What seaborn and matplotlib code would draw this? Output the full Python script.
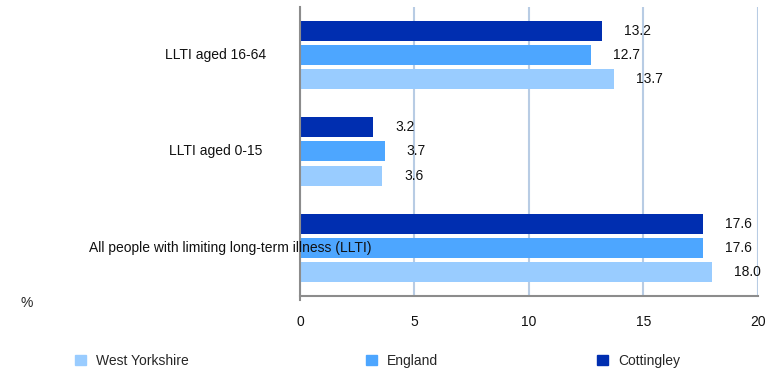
import numpy as np
import pandas as pd
import seaborn as sns
import matplotlib.pyplot as plt
from matplotlib.patches import Patch

categories = ["LLTI aged 16-64", "LLTI aged 0-15",
              "All people with limiting long-term illness (LLTI)"]
cottingley = [13.2, 3.2, 17.6]
england = [12.7, 3.7, 17.6]
west_yorkshire = [13.7, 3.6, 18.0]

series = ["Cottingley", "England", "West Yorkshire"]
colors = {"Cottingley": "#002EB0", "England": "#4DA6FF", "West Yorkshire": "#99CCFF"}

df = pd.DataFrame({
    "category": categories * 3,
    "value": cottingley + england + west_yorkshire,
    "area": [s for s in series for _ in categories],
})

sns.set_style("white")
plt.rcParams["font.family"] = ["Liberation Sans", "DejaVu Sans"]

fig = plt.figure(figsize=(7.69, 3.69), dpi=100)
ax = fig.add_axes([0.390, 0.198, 0.5957, 0.783])

sns.barplot(data=df, y="category", x="value", hue="area", order=categories,
            hue_order=series, palette=colors, orient="h", width=0.75, gap=0.17,
            saturation=1, legend=False, linewidth=0, ax=ax)

ax.set_xlim(0, 20)
ax.set_ylim(2.5, -0.5)
ax.set_xticks([0, 5, 10, 15, 20])
ax.set_xlabel("")
ax.set_ylabel("")
ax.set_yticks([])
ax.grid(axis="x", color="#B8CCE4", linewidth=1.5)
ax.set_axisbelow(True)
for s in ["top", "right"]:
    ax.spines[s].set_visible(False)
for s in ["left", "bottom"]:
    ax.spines[s].set_color("#8C8C8C")
    ax.spines[s].set_linewidth(1.5)
ax.spines["left"].set_bounds(-0.5, 2.54)
ax.tick_params(axis="x", length=4, color="#8C8C8C", width=1.2, pad=10,
               labelsize=10, labelcolor="#111111")

# category labels, centred left of the axis (centre in pixels)
label_centres = [216, 216, 230]
for i, (cat, cx) in enumerate(zip(categories, label_centres)):
    ax.text((cx - 300) / 22.9, i, cat, ha="center", va="center",
            fontsize=10, color="#111111")

# value labels
for cont in ax.containers:
    ax.bar_label(cont, fmt="%.1f", padding=16, fontsize=10, color="#111111")

fig.text(27 / 769, 1 - 303 / 369, "%", ha="center", va="center", fontsize=10)

legend_pos = {"West Yorkshire": 75 / 769, "England": 366 / 769, "Cottingley": 597 / 769}
for name, xpos in legend_pos.items():
    fig.legend(handles=[Patch(color=colors[name], label=name)],
               loc="center left", bbox_to_anchor=(xpos, 1 - 361 / 369),
               frameon=False, handlelength=0.8, handleheight=0.8,
               handletextpad=0.7, fontsize=10, borderpad=0, borderaxespad=0)

fig.savefig("out.png", dpi=100)
